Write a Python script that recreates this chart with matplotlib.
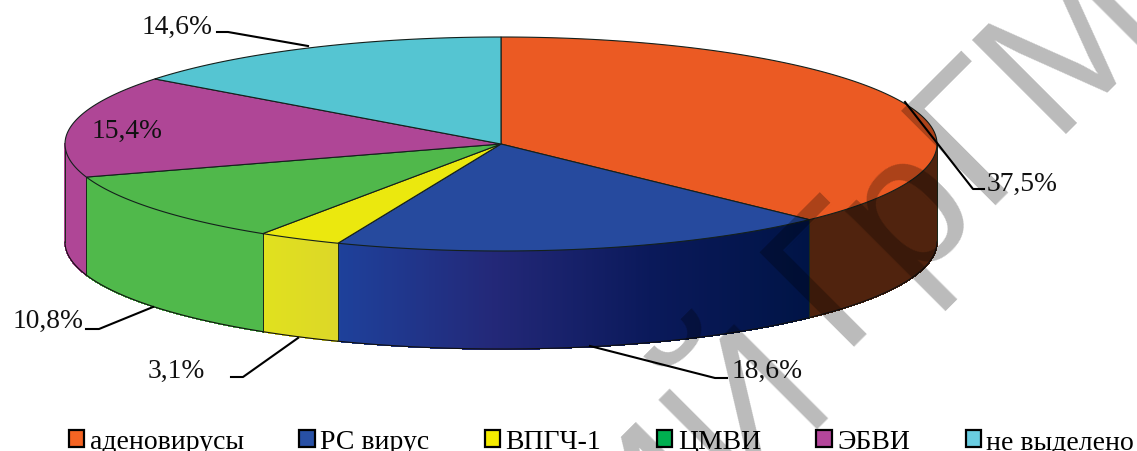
import numpy as np
import matplotlib
matplotlib.use("Agg")
import matplotlib.pyplot as plt
from matplotlib.colors import to_rgba_array
from matplotlib.patches import Patch, Polygon

plt.rcParams["font.family"] = ["Liberation Serif"]

categories = ["аденовирусы", "РС вирус", "ВПГЧ-1", "ЦМВИ", "ЭБВИ", "не выделено"]
shares = [37.5, 18.6, 3.1, 10.8, 15.4, 14.6]

top_colors = ["#EB5A23", "#264A9E", "#EBE80E", "#50B84B", "#AF4696", "#55C5D2"]
legend_colors = ["#F56423", "#2850A5", "#F5EB00", "#00AF50", "#B4469B", "#69CDE1"]
# side wall shading, left to right along each slice
side_colors = [
    ["#50230E", "#50230E"],
    ["#1E419B", "#232878", "#0A195A", "#001446"],
    ["#E1E11E", "#DCD728"],
    ["#50B94B", "#50B94B"],
    ["#AF4696", "#AF4696"],
    ["#55C5D2", "#55C5D2"],
]

# label text position and leader path for each slice, in pixels
label_pos = [(987, 184), (732, 371), (148, 371), (13, 321), (92, 131), (142, 27)]
leader_paths = [
    [(905, 103), (973, 190), (984, 190)],
    [(590, 347), (715, 379), (727, 379)],
    [(298, 339), (243, 378), (231, 378)],
    [(153, 308), (99, 330), (86, 330)],
    None,
    [(308, 47), (228, 33), (217, 33)],
]

cx, cy = 501, 145
rx, ry = 436, 107
depth = 98


def rim(theta, drop=0):
    # theta runs clockwise from the top of the ellipse, in degrees
    t = np.radians(theta)
    return np.column_stack([cx + rx * np.sin(t), cy - ry * np.cos(t) + drop])


fig = plt.figure(figsize=(11.37, 4.52), dpi=100)
ax = fig.add_axes([0, 0, 1, 1])
ax.set_xlim(0, 1137)
ax.set_ylim(452, 0)
ax.axis("off")

edges = np.concatenate([[0], np.cumsum(shares) * 3.6])

# side walls, only the front half of the disc shows
for i in range(len(shares)):
    a, b = max(edges[i], 90), min(edges[i + 1], 270)
    if a >= b:
        continue
    steps = np.linspace(a, b, int(b - a) * 4 + 2)
    top = rim(steps)
    low = rim(steps, depth)
    stops = to_rgba_array(side_colors[i])
    pos = np.linspace(0, 1, len(stops))
    xmin, xmax = top[:, 0].min(), top[:, 0].max()
    for k in range(len(steps) - 1):
        # shade runs across the screen, not along the angle
        f = (top[k, 0] - xmin) / (xmax - xmin)
        col = [np.interp(f, pos, stops[:, c]) for c in range(3)]
        quad = [top[k], top[k + 1], low[k + 1], low[k]]
        ax.add_patch(Polygon(quad, facecolor=col, edgecolor=col, lw=0.6,
                             antialiased=False, zorder=1))
    ax.plot(low[:, 0], low[:, 1], color="#101010", lw=0.8, zorder=2)
    for p, q in [(top[0], low[0]), (top[-1], low[-1])]:
        ax.plot([p[0], q[0]], [p[1], q[1]], color="#1c2a1c", lw=0.7, zorder=2)

# top face
for i in range(len(shares)):
    arc = rim(np.linspace(edges[i], edges[i + 1], 200))
    pts = np.vstack([[cx, cy], arc])
    ax.add_patch(Polygon(pts, closed=True, facecolor=top_colors[i],
                         edgecolor="#14201c", lw=0.8, zorder=3))

# value labels and leaders
for i, val in enumerate(shares):
    ax.text(label_pos[i][0], label_pos[i][1], f"{val:.1f}%".replace(".", ","),
            fontsize=19.8, color="#111111", ha="left", va="center", zorder=5)
    if leader_paths[i]:
        xs, ys = zip(*leader_paths[i])
        ax.plot(xs, ys, color="black", lw=1.5, zorder=4, solid_joinstyle="round")

handles = [Patch(facecolor=c, edgecolor="black", lw=1.6) for c in legend_colors]
ax.legend(handles, categories, loc="center", bbox_to_anchor=(0.529, 0.021), ncol=6,
          frameon=False, fontsize=20, handlelength=0.55, handleheight=0.55,
          handletextpad=0.2, columnspacing=2.0, borderpad=0, labelspacing=0)

# diagonal watermark laid over everything
wm = dict(fontsize=139, family="Liberation Sans", rotation=45, rotation_mode="anchor",
          va="baseline", color="black", alpha=0.27, zorder=6)
ax.text(838, 347, "ГрГМУ", ha="left", **wm)
ax.text(835, 395, "РЕПОЗИТОРИЙ", ha="right", **wm)

fig.savefig("out.png", dpi=100)
